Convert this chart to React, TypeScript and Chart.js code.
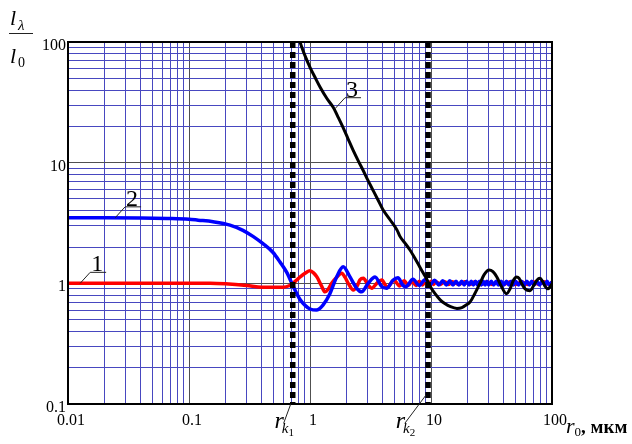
import React, { useEffect, useRef } from "react";
import { Chart, registerables } from "chart.js";
Chart.register(...registerables);

// ---- tick labels ----
const xMajor = [0.01, 0.1, 1, 10, 100];
const xTickLabels = ["0.01", "0.1", "1", "10", "100"];
const yMajor = [0.1, 1, 10, 100];
const yTickLabels = ["0.1", "1", "10", "100"];

// ---- curve 1 (red) ----
const curve1 = [
  [0.01, 1.0], [0.05, 1.0], [0.1, 1.0], [0.15, 1.0], [0.2, 0.99], [0.3, 0.96], [0.4, 0.93],
  [0.5, 0.93], [0.6, 0.93], [0.68, 0.96], [0.724, 1.0], [0.78, 1.07], [0.83, 1.13], [0.91, 1.21],
  [1.0, 1.27], [1.07, 1.22], [1.14, 1.13], [1.24, 0.96], [1.33, 0.85], [1.42, 0.9], [1.51, 1.0],
  [1.67, 1.13], [1.83, 1.21], [1.95, 1.12], [2.07, 1.0], [2.28, 0.88], [2.45, 0.95], [2.59, 1.07],
  [2.76, 1.1], [3.02, 0.97], [3.24, 0.91], [3.56, 1.0], [3.91, 1.065], [4.35, 0.93], [4.95, 1.06],
  [5.5, 0.95], [6.0, 1.05], [6.5, 0.96], [7.0, 1.05], [7.5, 0.96], [8.0, 1.04], [8.5, 0.97],
  [9.0, 1.04], [9.5, 0.97], [10, 1.04], [10.5, 0.98], [11, 1.03], [12, 0.98], [13, 1.03],
  [14, 0.98], [15, 1.03], [17, 0.98], [19, 1.03], [21, 0.98], [23, 1.03], [26, 0.98], [29, 1.03],
  [32, 0.98], [36, 1.03], [40, 0.98], [45, 1.03], [50, 0.98], [56, 1.03], [63, 0.98], [70, 1.03],
  [78, 0.98], [86, 1.03], [95, 0.98], [100, 1.02],
];

// ---- curve 2 (blue) ----
const curve2 = [
  [0.01, 3.49], [0.02, 3.49], [0.04, 3.48], [0.066, 3.45], [0.1, 3.4], [0.119, 3.34], [0.158, 3.24],
  [0.218, 3.04], [0.279, 2.75], [0.338, 2.45], [0.409, 2.13], [0.495, 1.8], [0.565, 1.5],
  [0.646, 1.22], [0.724, 0.95], [0.83, 0.73], [0.92, 0.65], [1.0, 0.613], [1.13, 0.6], [1.28, 0.66],
  [1.46, 0.82], [1.66, 1.13], [1.88, 1.37], [2.14, 1.13], [2.43, 0.91], [2.67, 0.85], [3.02, 1.0],
  [3.45, 1.13], [3.91, 0.94], [4.3, 0.91], [4.85, 1.06], [5.33, 1.11], [5.87, 0.96], [6.2, 0.94],
  [7.1, 1.08], [8.0, 0.96], [8.9, 1.07], [9.8, 0.97], [10.7, 1.06], [11.6, 0.97], [12.5, 1.05],
  [13.4, 0.97], [14.3, 1.05], [15.2, 0.97], [16.1, 1.04], [17.0, 0.97], [17.9, 1.04], [18.8, 0.97],
  [19.7, 1.04], [20.6, 0.97], [21.5, 1.04], [22.4, 0.97], [23.3, 1.04], [24.2, 0.97], [25.1, 1.04],
  [26, 0.97], [27, 1.04], [28, 0.97], [29, 1.04], [30, 0.97], [31.5, 1.04], [33, 0.97], [34.5, 1.04],
  [36, 0.97], [38, 1.04], [40, 0.97], [42, 1.04], [44, 0.97], [46, 1.04], [48, 0.97], [50, 1.04],
  [53, 0.97], [56, 1.04], [59, 0.97], [62, 1.04], [65, 0.97], [68, 1.04], [71, 0.97], [75, 1.04],
  [79, 0.97], [83, 1.04], [87, 0.97], [91, 1.04], [95, 0.97], [100, 1.03],
];

// ---- curve 3 (black) ----
const curve3 = [
  [0.826, 100], [0.9, 79], [1.0, 61.7], [1.1, 51], [1.21, 42.4], [1.38, 34], [1.55, 28.9],
  [1.72, 23.5], [1.87, 19.7], [2.05, 16], [2.27, 12.7], [2.5, 10.4], [2.74, 8.7], [3.0, 7.2],
  [3.32, 5.9], [3.65, 4.9], [4.0, 4.1], [4.6, 3.35], [5.24, 2.76], [5.54, 2.45], [6.1, 2.15],
  [6.7, 1.89], [7.4, 1.6], [8.1, 1.36], [8.7, 1.2], [9.27, 1.07], [9.8, 0.95], [10.8, 0.82],
  [11.9, 0.73], [13, 0.68], [14.5, 0.64], [16.4, 0.62], [18, 0.63], [19.5, 0.66], [21, 0.7],
  [23, 0.82], [25.4, 1.0], [27.5, 1.18], [30.2, 1.29], [32.5, 1.25], [35, 1.13], [38, 0.95],
  [42, 0.82], [45, 0.9], [48, 1.06], [51, 1.13], [53.5, 1.1], [56, 1.0], [60, 0.9], [65.8, 0.87],
  [71, 0.97], [75, 1.06], [79.5, 1.1], [84, 1.03], [88, 0.94], [92.6, 0.9], [96, 0.93], [100, 0.99],
];

// ---- critical radii (dashed verticals) ----
const rk1 = 0.72;
const rk2 = 9.45;
const yRange = [0.1, 100];

// curve label anchors on curves
const curveLabels = [
  { text: "1", x: 0.0126, y: 1.0 },
  { text: "2", x: 0.0245, y: 3.49 },
  { text: "3", x: 1.61, y: 28 },
];

const toPts = (a: number[][]) => a.map(([x, y]) => ({ x, y }));

function logTicks(min: number, max: number) {
  const out: { value: number }[] = [];
  for (let d = min; d < max * 0.999; d *= 10) {
    for (let m = 1; m <= 9; m++) out.push({ value: m * d });
  }
  out.push({ value: max });
  return out;
}

const isMajor = (v: number) => {
  if (!v) return false;
  const l = Math.log10(v);
  return Math.abs(l - Math.round(l)) < 1e-6;
};

const SERIF = "'Liberation Serif', 'Times New Roman', serif";

const annotPlugin = {
  id: "annot",
  afterDatasetsDraw(chart: any) {
    const { ctx, chartArea: a, scales } = chart;
    const xs = scales.x;
    const ys = scales.y;
    ctx.save();
    // frame
    ctx.strokeStyle = "#000";
    ctx.lineWidth = 2;
    ctx.strokeRect(a.left, a.top, a.right - a.left, a.bottom - a.top);

    // tick labels
    ctx.fillStyle = "#000";
    ctx.font = `16px ${SERIF}`;
    ctx.textBaseline = "alphabetic";
    ctx.textAlign = "center";
    xMajor.forEach((v, i) => ctx.fillText(xTickLabels[i], xs.getPixelForValue(v) + 3, a.bottom + 21));
    ctx.textAlign = "right";
    yMajor.forEach((v, i) => ctx.fillText(yTickLabels[i], a.left - 2, ys.getPixelForValue(v) + 8));

    // curve labels with leaders
    ctx.lineWidth = 1;
    ctx.strokeStyle = "#222";
    ctx.font = `24px ${SERIF}`;
    ctx.textAlign = "center";
    curveLabels.forEach((c) => {
      const px = xs.getPixelForValue(c.x);
      const py = ys.getPixelForValue(c.y);
      ctx.beginPath();
      ctx.moveTo(px, py);
      ctx.lineTo(px + 10, py - 11);
      ctx.lineTo(px + 26, py - 11);
      ctx.stroke();
      ctx.fillText(c.text, px + 17, py - 12);
    });

    // r_k labels
    const drawRk = (xv: number, sub: string, dx: number, dy: number, topOff: number) => {
      const px = xs.getPixelForValue(xv);
      const py = a.bottom;
      const ex = px + dx;
      const ey = py + dy;
      ctx.beginPath();
      ctx.moveTo(px - 2, py - topOff);
      ctx.lineTo(ex, ey);
      ctx.stroke();
      ctx.textAlign = "right";
      ctx.font = `italic 24px ${SERIF}`;
      ctx.fillText("r", ex, ey + 5);
      ctx.textAlign = "left";
      ctx.font = `italic 15px ${SERIF}`;
      ctx.fillText("k", ex - 2, ey + 10);
      const kw = ctx.measureText("k").width;
      ctx.font = `11px ${SERIF}`;
      ctx.fillText(sub, ex - 2 + kw, ey + 13);
    };
    drawRk(rk1, "1", -9, 19, 0);
    drawRk(rk2, "2", -23, 19, 9);

    // x axis title
    let tx = a.right + 14;
    const ty = a.bottom + 29;
    ctx.textAlign = "left";
    ctx.font = `italic 22px ${SERIF}`;
    ctx.fillText("r", tx, ty);
    tx += ctx.measureText("r").width;
    ctx.font = `13px ${SERIF}`;
    ctx.fillText("0", tx, ty + 3);
    tx += ctx.measureText("0").width;
    ctx.font = `bold 19px ${SERIF}`;
    ctx.fillText(", мкм", tx, ty);

    // y axis title (fraction)
    ctx.font = `italic 22px ${SERIF}`;
    ctx.fillText("l", 10, 25);
    ctx.font = `italic 15px ${SERIF}`;
    ctx.fillText("λ", 18, 30);
    ctx.beginPath();
    ctx.moveTo(9, 33.5);
    ctx.lineTo(33, 33.5);
    ctx.stroke();
    ctx.font = `italic 22px ${SERIF}`;
    ctx.fillText("l", 10, 63);
    ctx.font = `14px ${SERIF}`;
    ctx.fillText("0", 18, 67);
    ctx.restore();
  },
};

export default function App() {
  const ref = useRef<HTMLCanvasElement>(null);
  useEffect(() => {
    const gridColor = (c: any) => (isMajor(c.tick && c.tick.value) ? "#505050" : "#4848c0");
    const dashed = {
      showLine: true, borderColor: "#000", borderWidth: 5.5, borderDash: [6, 4],
      pointRadius: 0,
    };
    const curve = { showLine: true, pointRadius: 0, cubicInterpolationMode: "monotone" };
    const chart = new Chart(ref.current as HTMLCanvasElement, {
      type: "scatter",
      data: {
        datasets: [
          { ...dashed, data: [{ x: rk1, y: yRange[1] }, { x: rk1, y: yRange[0] }] },
          { ...dashed, data: [{ x: rk2, y: yRange[1] }, { x: rk2, y: yRange[0] }] },
          { ...curve, data: toPts(curve3), borderColor: "#000", borderWidth: 3 },
          { ...curve, data: toPts(curve2), borderColor: "#0000ff", borderWidth: 3.5 },
          { ...curve, data: toPts(curve1), borderColor: "#ff0000", borderWidth: 3.5 },
        ] as any,
      },
      options: {
        responsive: false,
        animation: false,
        devicePixelRatio: 1,
        layout: { padding: { left: 68, right: 80, top: 42, bottom: 40 } },
        plugins: { legend: { display: false }, tooltip: { enabled: false } },
        scales: {
          x: {
            type: "logarithmic",
            min: xMajor[0],
            max: xMajor[xMajor.length - 1],
            afterBuildTicks: (s: any) => { s.ticks = logTicks(xMajor[0], xMajor[xMajor.length - 1]); },
            afterFit: (s: any) => { s.height = 0; },
            ticks: { display: false },
            grid: { color: gridColor, lineWidth: 1, drawTicks: false },
            border: { display: false },
          },
          y: {
            type: "logarithmic",
            min: yMajor[0],
            max: yMajor[yMajor.length - 1],
            afterBuildTicks: (s: any) => { s.ticks = logTicks(yMajor[0], yMajor[yMajor.length - 1]); },
            afterFit: (s: any) => { s.width = 0; },
            ticks: { display: false },
            grid: { color: gridColor, lineWidth: 1, drawTicks: false },
            border: { display: false },
          },
        },
      } as any,
      plugins: [annotPlugin],
    });
    return () => chart.destroy();
  }, []);
  return (
    <div style={{ position: "absolute", left: 0, top: 0, width: 632, height: 444, background: "#fff" }}>
      <canvas ref={ref} width={632} height={444} style={{ display: "block" }} />
    </div>
  );
}
